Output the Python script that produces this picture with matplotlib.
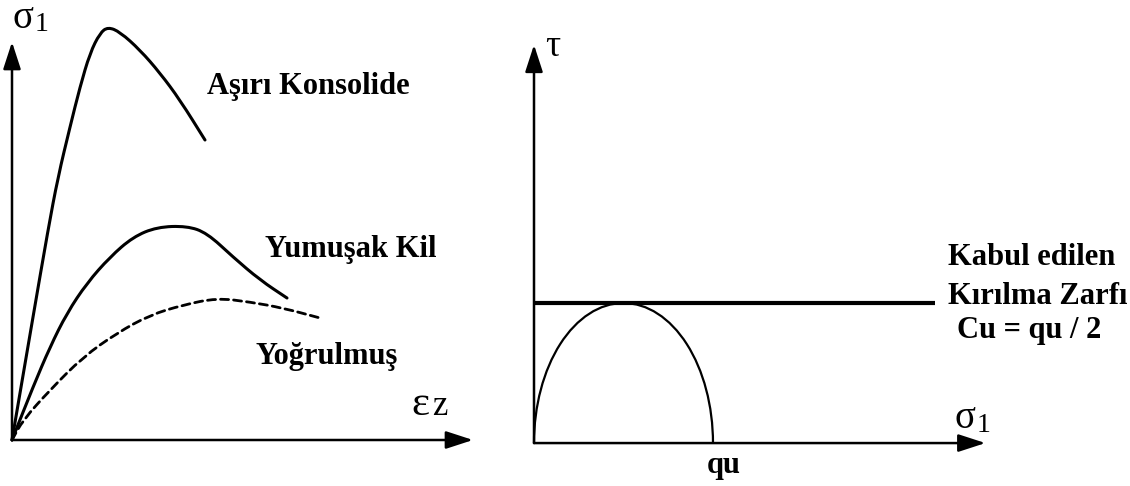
import matplotlib
matplotlib.use("Agg")
import matplotlib.pyplot as plt
from matplotlib.patches import Arc, PathPatch
from matplotlib.path import Path

plt.rcParams["font.family"] = ["Liberation Serif", "DejaVu Serif"]

# ─────────── 응력-변형률 곡선 (sigma1 - eps_z, 임의 단위) ───────────
oc_strain = [0, 2.1, 3.6, 4.6, 5.8, 6.8, 7.8, 8.8, 9.6, 10.8, 12.8, 14.8, 16.8, 19.3]
oc_stress = [0, 12.3, 21.0, 26.3, 31.3, 35.3, 38.7, 40.7, 41.3, 40.8, 39.0, 36.7, 34.0, 30.0]

soft_strain = [0, 2.1, 3.8, 5.5, 7.5, 9.8, 12.1, 14.5, 17.5, 19.5, 22.1, 24.8, 27.5]
soft_stress = [0, 5.3, 9.3, 12.7, 15.7, 18.3, 20.3, 21.3, 21.4, 20.7, 18.3, 16.0, 14.2]

rem_strain = [0, 1.1, 3.8, 7.1, 10.5, 13.8, 17.1, 20.5, 23.8, 27.1, 30.8]
rem_stress = [0, 2.0, 5.0, 8.3, 10.7, 12.5, 13.5, 14.2, 13.8, 13.2, 12.2]

curve_labels = ["Aşırı Konsolide", "Yumuşak Kil", "Yoğrulmuş"]

# ─────────── Mohr dairesi (serbest basınç) ───────────
qu = 18.0
cu = qu / 2
envelope_end = 40.3

W, H = 1130, 486
fig = plt.figure(figsize=(W / 100, H / 100), dpi=100)

arrow = dict(arrowstyle="-|>,head_length=0.83,head_width=0.27",
             mutation_scale=20, lw=1.8, color="black",
             shrinkA=0, shrinkB=0)


def axis_arrow(ax, tip):
    ax.annotate("", xy=tip, xytext=(0, 0), arrowprops=arrow)


def smooth_curve(ax, xs, ys, **kw):
    """측정점을 제어점으로 쓰는 2차 베지어 곡선"""
    pts = list(zip(xs, ys))
    mids = [((a[0] + b[0]) / 2, (a[1] + b[1]) / 2) for a, b in zip(pts[:-1], pts[1:])]
    verts = [pts[0], mids[0]]
    codes = [Path.MOVETO, Path.LINETO]
    for p, m in zip(pts[1:-1], mids[1:]):
        verts += [p, m]
        codes += [Path.CURVE3, Path.CURVE3]
    verts.append(pts[-1])
    codes.append(Path.LINETO)
    ax.add_patch(PathPatch(Path(verts, codes), fill=False, color="black",
                           capstyle="round", joinstyle="round", **kw))


# sol panel
ax1 = fig.add_axes([0, 0, 480 / W, 1])
ax1.set_xlim(-1.2, 46.8)
ax1.set_ylim(-4.6, 44.0)
ax1.axis("off")

axis_arrow(ax1, (0, 39.8))
axis_arrow(ax1, (46.1, 0))

smooth_curve(ax1, oc_strain, oc_stress, lw=2.2)
smooth_curve(ax1, soft_strain, soft_stress, lw=2.2)
smooth_curve(ax1, rem_strain, rem_stress, lw=2.0, linestyle=(0, (2.9, 1.8)))

ax1.text(19.5, 34.6, curve_labels[0], fontsize=22, fontweight="bold")
ax1.text(25.3, 18.3, curve_labels[1], fontsize=22, fontweight="bold")
ax1.text(24.3, 7.6, curve_labels[2], fontsize=22, fontweight="bold")

ax1.text(0.1, 41.2, "σ", fontsize=28)
ax1.text(2.3, 40.9, "1", fontsize=20)
ax1.text(39.9, 2.5, "ε", fontsize=31)
ax1.text(42.0, 2.5, "z", fontsize=25)

# sağ panel
ax2 = fig.add_axes([500 / W, 0, 630 / W, 1])
ax2.set_xlim(-3.42, 59.94)
ax2.set_ylim(-2.76, 28.48)
ax2.axis("off")

axis_arrow(ax2, (0, 25.6))
axis_arrow(ax2, (45.4, 0))

ax2.plot([0, envelope_end], [cu, cu], color="black", lw=3.0,
         solid_capstyle="butt")
ax2.add_patch(Arc((cu, 0), qu, 2 * cu, theta1=0, theta2=180,
                  color="black", lw=1.6))

ax2.text(1.1, 24.9, "τ", fontsize=27)
ax2.text(42.3, 0.96, "σ", fontsize=28)
ax2.text(44.5, 0.7, "1", fontsize=20)
ax2.text(qu + 1.1, -1.95, "qu", fontsize=22, fontweight="bold", ha="center")

ax2.text(41.6, 11.45, "Kabul edilen", fontsize=22, fontweight="bold")
ax2.text(41.6, 8.94, "Kırılma Zarfı", fontsize=22, fontweight="bold")
ax2.text(42.5, 6.75, "Cu = qu / 2", fontsize=22, fontweight="bold")

fig.savefig("out.png", dpi=100)
plt.close(fig)
